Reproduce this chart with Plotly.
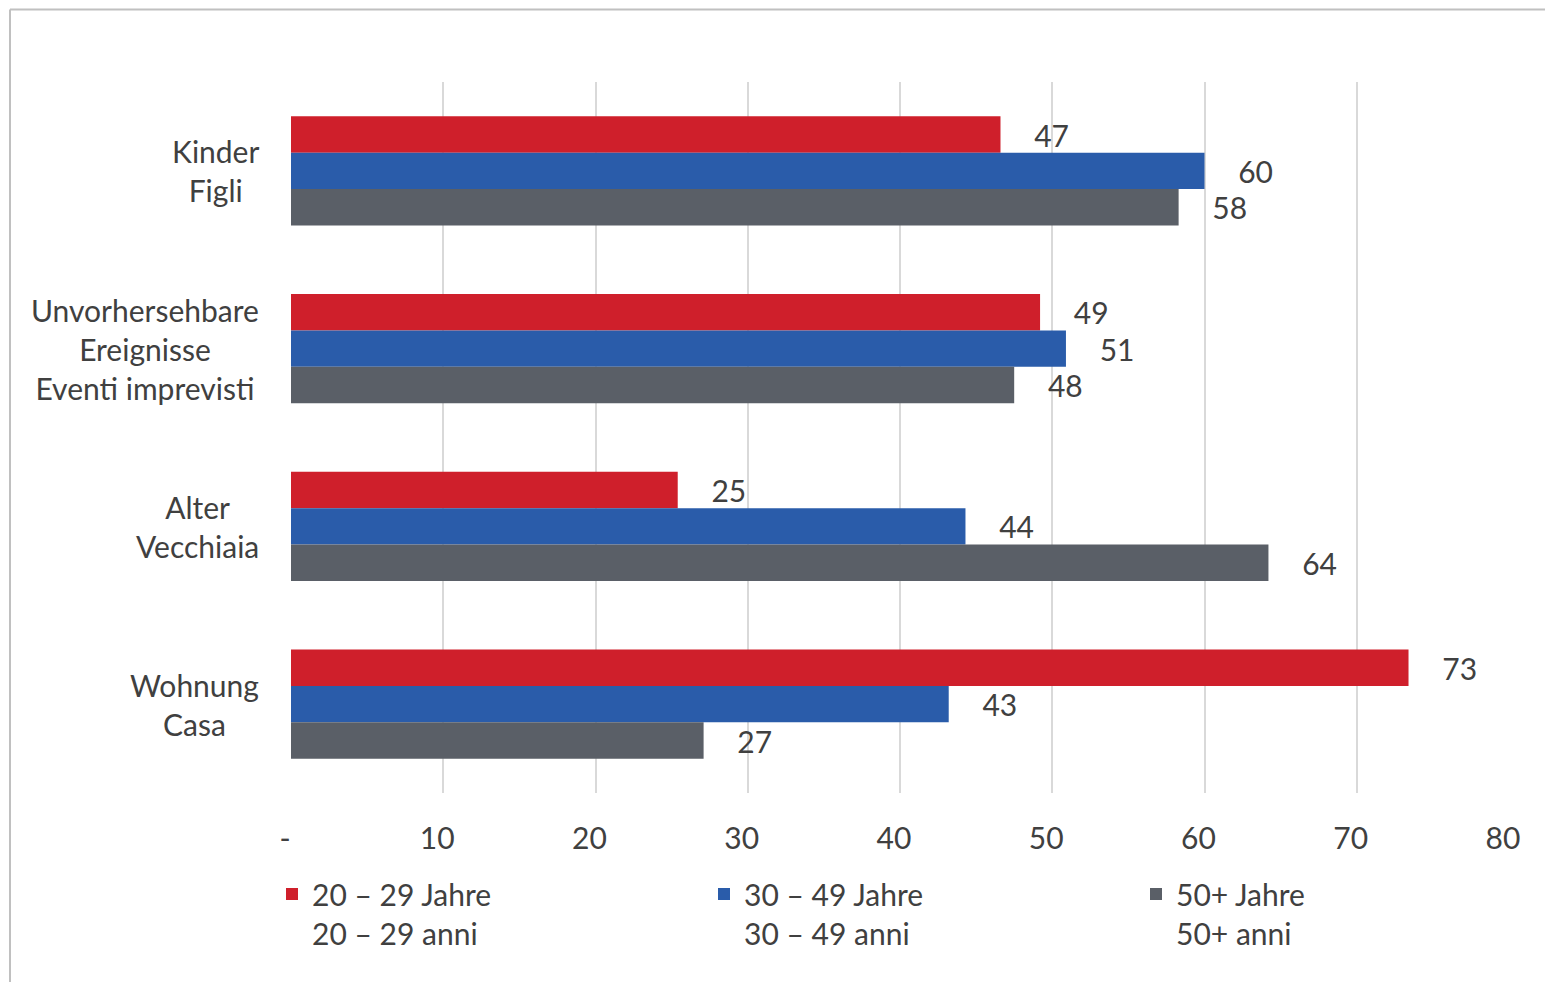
import plotly.graph_objects as go

categories = ["Kinder<br>Figli", "Unvorhersehbare<br>Ereignisse<br>Eventi imprevisti",
              "Alter<br>Vecchiaia", "Wohnung<br>Casa"]
series_names = ["20 – 29 Jahre<br>20 – 29 anni", "30 – 49 Jahre<br>30 – 49 anni",
                "50+ Jahre<br>50+ anni"]
age_20_29 = [46.6, 49.2, 25.4, 73.4]
age_30_49 = [60.0, 50.9, 44.3, 43.2]
age_50_plus = [58.3, 47.5, 64.2, 27.1]
tick_vals = [0, 10, 20, 30, 40, 50, 60, 70, 80]
tick_text = ["-", "10", "20", "30", "40", "50", "60", "70", "80"]

colors = ["#cf1f2b", "#2a5caa", "#5a5f67"]
FONT = "Lato"
TXT = "#404040"
FS = 30

# page body adds an 8px margin, so work in shifted pixel coordinates
OFF = 8
W, H = 1553 - OFF, 982 - OFF
ML, MT = 291 - OFF, 82 - OFF
MR = W - (1509 - OFF)
MB = H - (793 - OFF)
pw, ph = W - ML - MR, H - MT - MB


def px_x(p):
    return (p - OFF - ML) / pw


def px_y(p):
    return (H - MB - (p - OFF)) / ph


fig = go.Figure()
legend_ids = ["legend", "legend2", "legend3"]
for name, vals, col, lg in zip(series_names, [age_20_29, age_30_49, age_50_plus], colors, legend_ids):
    fig.add_trace(go.Bar(
        y=categories, x=vals, name=name, orientation="h", legend=lg,
        marker=dict(color=col, line=dict(width=0)),
        text=[f"{v:.0f}" for v in vals],
        texttemplate="\u00a0\u00a0\u00a0\u00a0%{text}",
        textposition="outside", cliponaxis=False,
        textfont=dict(family=FONT, size=FS, color=TXT),
    ))

for c in categories:
    fig.add_annotation(
        x=0, xref="paper", y=c, yref="y", text=c, showarrow=False,
        xanchor="right", xshift=-30, align="center",
        font=dict(family=FONT, size=FS, color=TXT),
    )

# outer frame (top and left edges visible)
fig.add_shape(type="line", xref="paper", yref="paper",
              x0=px_x(10), x1=px_x(1560), y0=px_y(9.5), y1=px_y(9.5),
              line=dict(color="#c0c0c0", width=2))
fig.add_shape(type="line", xref="paper", yref="paper",
              x0=px_x(10), x1=px_x(10), y0=px_y(9.5), y1=px_y(990),
              line=dict(color="#c0c0c0", width=2))

legend_style = dict(
    orientation="h", xanchor="left", yanchor="top", valign="top",
    font=dict(family=FONT, size=FS, color=TXT), bgcolor="rgba(0,0,0,0)",
    itemwidth=30,
)
legend_x = [272, 704, 1136]

fig.update_layout(
    width=W, height=H,
    margin=dict(l=ML, r=MR, t=MT, b=MB),
    paper_bgcolor="white", plot_bgcolor="white",
    barmode="group", bargap=0.386, bargroupgap=0,
    font=dict(family=FONT, size=FS, color=TXT),
    showlegend=True,
    legend=dict(x=px_x(legend_x[0]), y=px_y(868), **legend_style),
    legend2=dict(x=px_x(legend_x[1]), y=px_y(868), **legend_style),
    legend3=dict(x=px_x(legend_x[2]), y=px_y(868), **legend_style),
    xaxis=dict(
        range=[0, 80], tickvals=tick_vals, ticktext=tick_text,
        showgrid=True, gridcolor="#d9d9d9", gridwidth=2,
        zeroline=False, showline=False, ticks="",
        ticklabelstandoff=25, ticklabelshift=-6,
        tickfont=dict(family=FONT, size=FS, color=TXT),
    ),
    yaxis=dict(
        autorange="reversed", showticklabels=False, showgrid=False,
        zeroline=False, showline=False, ticks="",
    ),
)

fig.write_html("out.html")
